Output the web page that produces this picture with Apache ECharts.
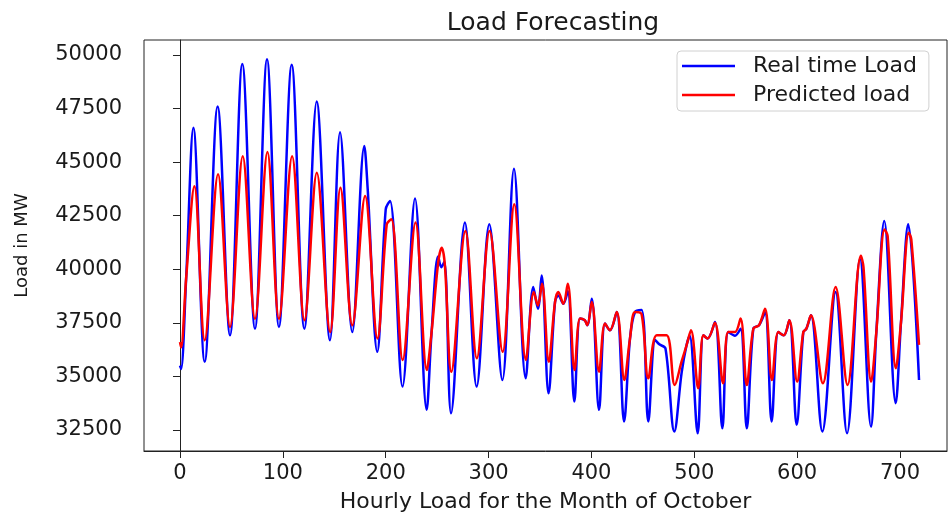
<!DOCTYPE html>
<html>
<head>
<meta charset="utf-8">
<title>Load Forecasting</title>
<script src="https://cdn.jsdelivr.net/npm/echarts@6/dist/echarts.min.js"></script>
<style>
    html, body { margin: 0; padding: 0; background: #fff; }
    #load_chart { width: 948px; height: 518px; }
</style>
</head>
<body>
<div id="load_chart"></div>
<script>
// hours (peaks, troughs, shoulders)
var realHours = [0, 1, 6, 13, 24, 36.6, 48.6, 60.6, 72.9, 84.6, 96.2, 108.6, 120.9, 132.9, 145.8, 155.6, 167.5,
    179.2, 182.5, 191.8, 200, 204.2, 216.3, 228.5, 239.8, 244.6, 251, 254, 257, 263.5, 277, 288.4, 300.7, 313.4,
    324.7, 336.1, 343.5, 348, 351.6, 358.3, 364.6, 367.8, 372.7, 377, 383.4, 388.9, 393.5, 396, 400.3, 407.4,
    413.2, 418, 424.6, 431.7, 437.5, 442.4, 448.8, 455.3, 462, 466, 472, 480.6, 487.7, 492.4, 495.5, 503.3,
    508.8, 513, 520.1, 527.3, 533, 539.6, 545, 551, 557.4, 563, 568.8, 575.2, 581.7, 587, 592.4, 599.5,
    606, 609, 613.4, 624.5, 637.4, 648.5, 661.1, 671.8, 677, 684.7, 695.8, 701, 708, 718.5];
var realLoad = [35500, 35350, 39600, 46600, 35680, 47600, 36920, 49580, 37230, 49800, 37310, 49540, 37230, 47830, 36690, 46390, 37070,
    45750, 43730, 36150, 42800, 43190, 34525, 43300, 33440, 37070, 40600, 40100, 40350, 33285, 42180, 34525, 42100, 34835,
    44690, 34910, 39170, 38160, 39710, 34215, 38470, 38780, 38390, 38980, 33830, 37700, 37620, 37390, 38620, 33440,
    37470, 37150, 38010, 32900, 36770, 38010, 38100, 32900, 36700, 36500, 36300, 32430, 35180, 36440, 36900, 32350,
    36920, 36770, 37540, 32580, 37070, 36900, 37230, 32580, 37230, 37390, 37990, 32900, 37070, 36920, 37620, 32740,
    37070, 37230, 37850, 32430, 38940, 32350, 40480, 32660, 37070, 42250, 33750, 37540, 42100, 34835];

var predHours = [0, 1, 6, 14, 24, 37, 48.6, 61, 72.9, 85, 96.2, 109, 121, 133, 146, 156, 167.5,
    180, 192, 201, 205.5, 216.5, 229, 240, 244.6, 251, 254.5, 257.5, 263.8, 277.5, 288.6, 301, 313.7,
    325, 336.3, 344, 348, 352, 358.5, 364.6, 367.8, 372.7, 377, 383.6, 388.9, 393.5, 396, 400.3, 407.4,
    413.2, 418, 424.6, 432, 437.5, 442.4, 448.8, 455.3, 463.4, 473.1, 481, 487.7, 492.4, 496.8, 503.8,
    508.8, 513, 520, 528, 533, 539.6, 545, 551, 557.4, 563, 568.8, 575.5, 581.7, 587, 592.4, 600,
    606, 609, 613.4, 625, 637.4, 649, 662, 664.5, 672, 677, 685, 688, 696, 701, 708.5, 711, 718.5];
var predLoad = [36600, 36350, 39600, 43880, 36690, 44430, 37310, 45280, 37690, 45470, 37690, 45280, 37620, 44500, 37070, 43810, 37390,
    43420, 36770, 42100, 42330, 35770, 42180, 35300, 37070, 40300, 41000, 40200, 35220, 41790, 35850, 41790, 36150,
    43030, 35770, 38940, 38310, 39320, 35690, 38470, 38940, 38390, 39320, 35300, 37700, 37620, 37390, 38470, 35220,
    37470, 37150, 38010, 34835, 36770, 38010, 37900, 34910, 36920, 36920, 34600, 35700, 36440, 37150, 34450,
    36920, 36770, 37500, 34680, 37070, 37070, 37700, 34600, 37230, 37390, 38160, 34835, 37070, 36920, 37620, 34760,
    37070, 37230, 37850, 34680, 39170, 34600, 40630, 40100, 34760, 37070, 41860, 41550, 35380, 37540, 41710, 41400, 36470];

var xTicks = [0, 100, 200, 300, 400, 500, 600, 700];
var yTicks = [32500, 35000, 37500, 40000, 42500, 45000, 47500, 50000];

function zip(xs, ys){
    var out = [];
    for(var i = 0; i < xs.length; i++){
        out.push([xs[i], ys[i]]);
    }
    return out;
}

var chart = echarts.init(document.getElementById('load_chart'));
var font = 'DejaVu Sans';
var option = {
    animation: false,
    textStyle: { fontFamily: font },
    title: {
        text: 'Load Forecasting',
        left: 548,
        textAlign: 'center',
        top: 6,
        textStyle: { fontFamily: font, fontSize: 25, fontWeight: 'normal', color: '#1a1a1a' }
    },
    grid: {
        left: 144,
        top: 40,
        right: 1,
        height: 413,
        show: true,
        borderColor: '#222',
        borderWidth: 1
    },
    legend: {
        orient: 'vertical',
        left: 677,
        top: 51,
        padding: [4, 12, 5, 5],
        itemGap: 7,
        itemWidth: 53,
        itemHeight: 2.5,
        icon: 'rect',
        borderColor: '#d0d0d0',
        borderWidth: 1,
        borderRadius: 4,
        backgroundColor: '#fff',
        textStyle: { fontFamily: font, fontSize: 22, color: '#1a1a1a', padding: [0, 0, 0, 13] },
        data: ['Real time Load', 'Predicted load']
    },
    xAxis: {
        type: 'value',
        min: -35,
        max: 745.7,
        name: 'Hourly Load for the Month of October',
        nameLocation: 'middle',
        nameGap: 40,
        nameTextStyle: { fontFamily: font, fontSize: 22, color: '#1a1a1a' },
        splitLine: { show: false },
        axisLine: { show: true, lineStyle: { color: '#222', width: 1 } },
        axisTick: { show: true, length: 7, customValues: xTicks, lineStyle: { color: '#222' } },
        axisLabel: { customValues: xTicks, margin: 12, fontSize: 21, color: '#1a1a1a', fontFamily: font }
    },
    yAxis: {
        type: 'value',
        min: 31520,
        max: 50700,
        name: 'Load in MW',
        nameLocation: 'middle',
        nameGap: 113,
        nameRotate: 90,
        nameTextStyle: { fontFamily: font, fontSize: 18, color: '#1a1a1a' },
        splitLine: { show: false },
        axisLine: { show: true, lineStyle: { color: '#222', width: 1 } },
        axisTick: { show: true, length: 7, customValues: yTicks, lineStyle: { color: '#222' } },
        axisLabel: {
            customValues: yTicks, margin: 22, fontSize: 21, color: '#1a1a1a', fontFamily: font,
            formatter: function(v){ return String(v); }
        }
    },
    series: [
        {
            name: 'Real time Load',
            type: 'line',
            data: zip(realHours, realLoad),
            showSymbol: false,
            smooth: 0.35,
            lineStyle: { color: '#0000ff', width: 2.5 },
            itemStyle: { color: '#0000ff' },
            z: 2
        },
        {
            name: 'Predicted load',
            type: 'line',
            data: zip(predHours, predLoad),
            showSymbol: false,
            smooth: 0.35,
            lineStyle: { color: '#ff0000', width: 2.5 },
            itemStyle: { color: '#ff0000' },
            z: 3
        }
    ]
};
chart.setOption(option);
</script>
</body>
</html>
